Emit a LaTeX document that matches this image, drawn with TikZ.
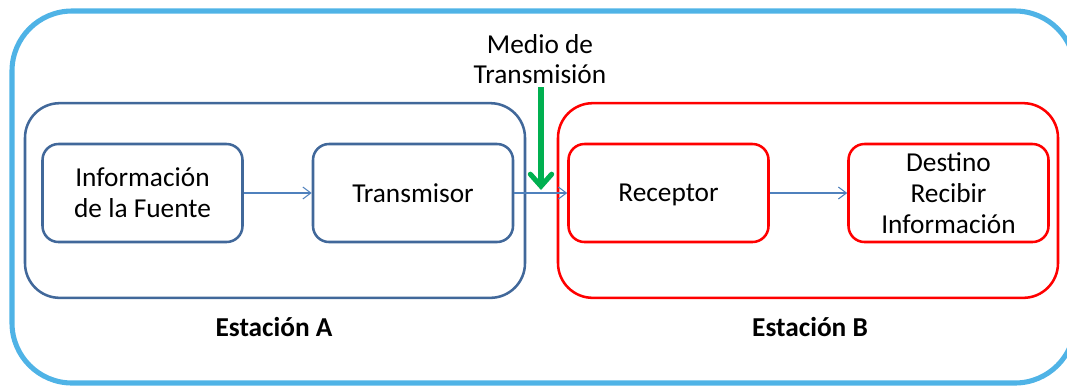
\documentclass[tikz,border=0pt]{standalone}
\usepackage{fontspec}
\setmainfont{Carlito}
\usetikzlibrary{arrows.meta}
\definecolor{skyline}{HTML}{4FB3E6}
\definecolor{stationblue}{HTML}{41689A}
\definecolor{linkblue}{HTML}{4F81BD}
\definecolor{mediumgreen}{HTML}{00B050}
\tikzset{
  lbl/.style={font=\fontsize{20.5pt}{23pt}\selectfont, align=center, text=black},
  stationA/.style={draw=stationblue, line width=1.9pt, rounded corners=26pt,
    minimum width=375pt, minimum height=146pt},
  stationB/.style={stationA, draw=red},
  blockA/.style={draw=stationblue, line width=1.9pt, rounded corners=12pt,
    minimum width=150pt, minimum height=73.5pt, lbl},
  blockB/.style={blockA, draw=red},
  link/.style={draw=linkblue, line width=0.8pt, -{Straight Barb[length=6pt,width=9pt]}},
  medium/.style={draw=mediumgreen, line width=3.8pt,
    -{Straight Barb[length=9pt,width=16pt,line cap=round]}}
}
\begin{document}
\begin{tikzpicture}[x=0.75pt, y=-0.75pt]
  \useasboundingbox (0,0) rectangle (1067,387);
  \clip (0,0) rectangle (1067,387);
  % outer frame (runs past the right edge)
  \draw[skyline, line width=3.8pt, rounded corners=45pt] (12,11) rectangle (1075,383);
  % stations
  \node[stationA] (staA) at (275,200.5) {};
  \node[stationB] (staB) at (808,200.5) {};
  % blocks
  \node[blockA] (fuente) at (142.5,193) {Información\\de la Fuente};
  \node[blockA] (trans) at (413,193) {Transmisor};
  \node[blockB, text depth=0pt] (recep) at (668.5,193) {Receptor};
  \node[blockB] (dest) at (948.5,193) {Destino\\Recibir\\Información};
  % station labels
  \node[lbl, font=\fontsize{20.5pt}{23pt}\selectfont\bfseries] (labA) at (274,327) {Estación A};
  \node[lbl, font=\fontsize{20.5pt}{23pt}\selectfont\bfseries] (labB) at (810,327) {Estación B};
  % transmission medium
  \node[lbl, inner sep=0pt] (medio) at (540,59) {Medio de\\Transmisión};
  \coordinate (hit) at (541,190);
  % links
  \draw[link] (fuente) -- (trans);
  \draw[link] (trans) -- (recep);
  \draw[link] (recep) -- (dest);
  \draw[medium] (541,87) -- (hit);
\end{tikzpicture}
\end{document}
